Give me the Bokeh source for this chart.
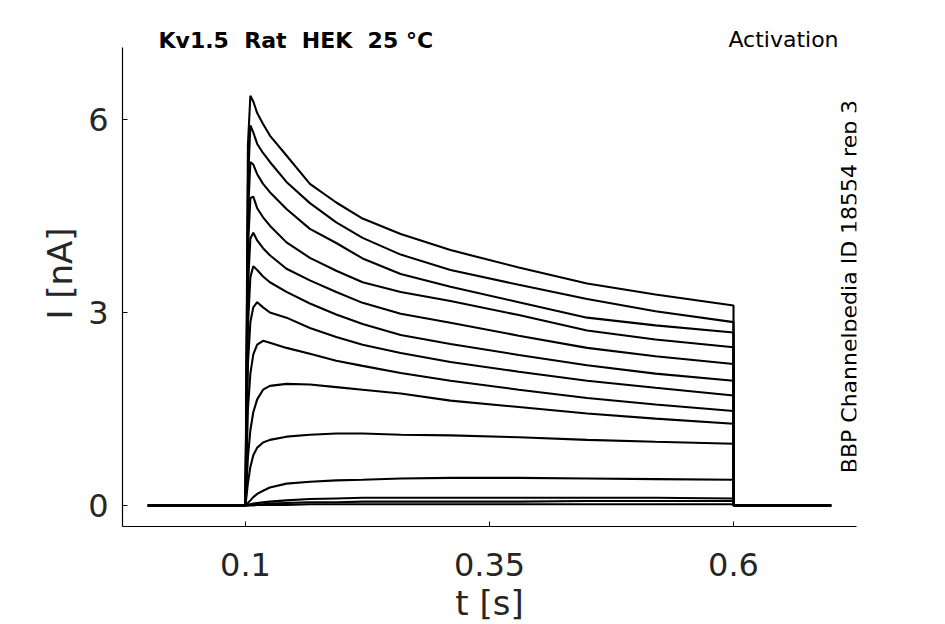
from bokeh.plotting import figure
from bokeh.models import Range1d, Label, FixedTicker
from bokeh.embed import file_html
from bokeh.resources import INLINE
import math

# ---- data ----
t_start = 0.0
t_end = 0.7
t_pulse_end = 0.6
t_grid = [0.1, 0.1025, 0.105, 0.108, 0.112, 0.118, 0.125, 0.142, 0.166,
          0.193, 0.22, 0.259, 0.31, 0.38, 0.45, 0.52, 0.6]

sweep_01 = [0, 5.60, 6.37, 6.28, 6.10, 5.93, 5.75, 5.44, 5.00, 4.71, 4.46, 4.22, 3.97, 3.70, 3.45, 3.28, 3.11]
sweep_02 = [0, 5.00, 5.91, 5.80, 5.62, 5.48, 5.34, 5.03, 4.70, 4.40, 4.16, 3.90, 3.66, 3.43, 3.21, 3.02, 2.85]
sweep_03 = [0, 4.50, 5.34, 5.30, 5.15, 5.00, 4.87, 4.61, 4.30, 4.08, 3.84, 3.60, 3.40, 3.16, 2.92, 2.80, 2.69]
sweep_04 = [0, 4.00, 4.78, 4.80, 4.62, 4.48, 4.35, 4.09, 3.85, 3.65, 3.47, 3.32, 3.18, 2.96, 2.72, 2.58, 2.46]
sweep_05 = [0, 3.40, 4.15, 4.24, 4.12, 4.00, 3.89, 3.68, 3.50, 3.32, 3.15, 2.98, 2.84, 2.64, 2.45, 2.32, 2.20]
sweep_06 = [0, 2.80, 3.55, 3.72, 3.66, 3.56, 3.47, 3.32, 3.14, 2.97, 2.82, 2.65, 2.51, 2.34, 2.18, 2.05, 1.94]
sweep_07 = [0, 2.20, 2.85, 3.08, 3.16, 3.08, 3.00, 2.92, 2.76, 2.62, 2.50, 2.37, 2.23, 2.08, 1.94, 1.83, 1.71]
sweep_08 = [0, 1.50, 2.05, 2.35, 2.50, 2.56, 2.53, 2.45, 2.36, 2.25, 2.17, 2.06, 1.94, 1.80, 1.67, 1.57, 1.47]
sweep_09 = [0, 0.75, 1.17, 1.45, 1.65, 1.80, 1.86, 1.89, 1.88, 1.84, 1.80, 1.74, 1.63, 1.53, 1.43, 1.35, 1.27]
sweep_10 = [0, 0.35, 0.60, 0.78, 0.90, 0.98, 1.02, 1.07, 1.10, 1.12, 1.12, 1.10, 1.09, 1.06, 1.02, 0.99, 0.96]
sweep_11 = [0, 0.04, 0.08, 0.13, 0.18, 0.23, 0.28, 0.34, 0.37, 0.39, 0.40, 0.42, 0.43, 0.43, 0.42, 0.41, 0.40]
sweep_12 = [0, 0.01, 0.02, 0.03, 0.04, 0.05, 0.06, 0.08, 0.10, 0.11, 0.12, 0.12, 0.12, 0.12, 0.12, 0.12, 0.11]
sweep_13 = [0, 0.00, 0.01, 0.01, 0.02, 0.02, 0.03, 0.04, 0.05, 0.05, 0.06, 0.06, 0.06, 0.06, 0.07, 0.07, 0.07]
sweep_14 = [0, 0.00, 0.00, 0.00, 0.01, 0.01, 0.01, 0.01, 0.02, 0.02, 0.02, 0.02, 0.02, 0.02, 0.02, 0.02, 0.02]

sweeps = [sweep_01, sweep_02, sweep_03, sweep_04, sweep_05, sweep_06, sweep_07,
          sweep_08, sweep_09, sweep_10, sweep_11, sweep_12, sweep_13, sweep_14]

x_ticks = [0.1, 0.35, 0.6]
x_tick_labels = ["0.1", "0.35", "0.6"]
y_ticks = [0, 3, 6]
y_tick_labels = ["0", "3", "6"]

# double spaces kept visible with a no-break space (SVG collapses plain runs)
title_text = "Kv1.5\u00a0 Rat\u00a0 HEK\u00a0 25 °C"
right_title = "Activation"
side_text = "BBP Channelpedia ID 18554 rep 3"

FONT = "DejaVu Sans"
GREY = "#262626"

X_LO, X_HI = -0.026, 0.726
Y_LO, Y_AX_HI, Y_HI = -0.3264, 7.119, 7.539

p = figure(frame_width=734, frame_height=506,
           x_range=Range1d(X_LO, X_HI), y_range=Range1d(Y_LO, Y_HI),
           output_backend="svg", toolbar_location=None,
           min_border_left=122, min_border_right=81,
           min_border_top=20, min_border_bottom=90)
p.outline_line_color = None
p.xgrid.visible = False
p.ygrid.visible = False
p.background_fill_color = "white"
p.border_fill_color = "white"

for s in sweeps:
    xs = [t_start] + t_grid + [t_pulse_end, t_end]
    ys = [0.0] + s + [0.0, 0.0]
    p.line(xs, ys, line_color="black", line_width=2.1)

for ax in (p.xaxis[0], p.yaxis[0]):
    ax.axis_line_color = "black"
    ax.axis_line_width = 1.2
    ax.major_tick_line_color = "black"
    ax.major_tick_in = 5
    ax.major_tick_out = 0
    ax.minor_tick_line_color = None
    ax.major_label_text_font = FONT
    ax.major_label_text_font_size = "32px"
    ax.major_label_text_color = GREY
    ax.axis_label_text_font = FONT
    ax.axis_label_text_font_size = "34px"
    ax.axis_label_text_font_style = "normal"
    ax.axis_label_text_color = GREY

p.yaxis.bounds = (Y_LO, Y_AX_HI)
p.xaxis.ticker = FixedTicker(ticks=x_ticks)
p.xaxis.major_label_overrides = {k: v for k, v in zip(x_ticks, x_tick_labels)}
p.yaxis.ticker = FixedTicker(ticks=y_ticks)
p.yaxis.major_label_overrides = {k: v for k, v in zip(y_ticks, y_tick_labels)}
p.xaxis.axis_label = "t [s]"
p.yaxis.axis_label = "I [nA]"
p.xaxis.major_label_standoff = 26
p.yaxis.major_label_standoff = 14
p.xaxis.axis_label_standoff = 4
p.yaxis.axis_label_standoff = 5

p.add_layout(Label(x=0.0109, y=7.228, text=title_text, text_font=FONT,
                   text_font_size="22px", text_font_style="bold",
                   text_color="black", text_align="left", text_baseline="middle"))
p.add_layout(Label(x=0.7076, y=7.2436, text=right_title, text_font=FONT,
                   text_font_size="22px", text_color="black",
                   text_align="right", text_baseline="middle"))
p.add_layout(Label(x=0.7189, y=3.404, text=side_text, text_font=FONT,
                   text_font_size="22px", text_color="black", angle=math.pi / 2,
                   text_align="center", text_baseline="middle"))

open("out.html", "w").write(file_html(p, INLINE))
